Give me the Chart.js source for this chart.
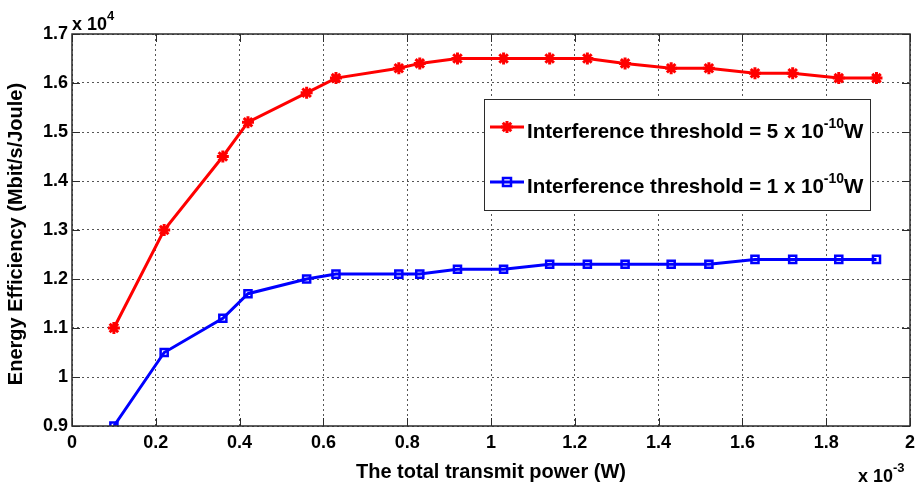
<!DOCTYPE html>
<html>
<head>
<meta charset="utf-8">
<script src="https://cdn.jsdelivr.net/npm/chart.js@4.4.0/dist/chart.umd.min.js"></script>
<style>
  body { margin: 0; background: #fff; }
  #grafico { display: block; }
</style>
</head>
<body>
<canvas id="grafico" width="923" height="485"></canvas>
<script>
// Dados (x em 10^-3 W, y em 10^4 Mbit/s/Joule)
const potencia = [0.1, 0.22, 0.36, 0.42, 0.56, 0.63, 0.78, 0.83, 0.92, 1.03, 1.14, 1.23, 1.32, 1.43, 1.52, 1.63, 1.72, 1.83, 1.92];
const eficienciaLimiar5 = [1.1, 1.3, 1.45, 1.52, 1.58, 1.61, 1.63, 1.64, 1.65, 1.65, 1.65, 1.65, 1.64, 1.63, 1.63, 1.62, 1.62, 1.61, 1.61];
const eficienciaLimiar1 = [0.9, 1.05, 1.12, 1.17, 1.2, 1.21, 1.21, 1.21, 1.22, 1.22, 1.23, 1.23, 1.23, 1.23, 1.23, 1.24, 1.24, 1.24, 1.24];
const nomesSeries = ['Interference threshold = 5 x 10', 'Interference threshold = 1 x 10'];
const ticksX = [0, 0.2, 0.4, 0.6, 0.8, 1, 1.2, 1.4, 1.6, 1.8, 2];
const ticksY = [0.9, 1, 1.1, 1.2, 1.3, 1.4, 1.5, 1.6, 1.7];

const FONTE = '"Liberation Sans", Arial, Helvetica, sans-serif';

function pontos(ys) {
  return potencia.map((x, i) => ({ x: x, y: ys[i] }));
}

function fmt(v) {
  return String(+v.toFixed(1));
}

// texto com expoente (ex.: x 10^4)
function textoExpoente(ctx, x, y, partes) {
  ctx.textAlign = 'left';
  ctx.textBaseline = 'alphabetic';
  partes.forEach(p => {
    ctx.font = 'bold ' + p.size + 'px ' + FONTE;
    ctx.fillText(p.t, x, y + (p.dy || 0));
    x += ctx.measureText(p.t).width;
  });
}

function marcadorEstrela(ctx, x, y, cor) {
  ctx.save();
  ctx.strokeStyle = cor;
  ctx.lineWidth = 3;
  const r = 6;
  ctx.beginPath();
  for (let k = 0; k < 4; k++) {
    const a = k * Math.PI / 4;
    ctx.moveTo(x - r * Math.cos(a), y - r * Math.sin(a));
    ctx.lineTo(x + r * Math.cos(a), y + r * Math.sin(a));
  }
  ctx.stroke();
  ctx.restore();
}

function marcadorQuadrado(ctx, x, y, cor) {
  ctx.save();
  ctx.strokeStyle = cor;
  ctx.lineWidth = 2.5;
  ctx.strokeRect(x - 4, y - 4, 8, 8);
  ctx.restore();
}

// Plugin: caixa, marcas de escala, títulos e legenda no estilo MATLAB
const estiloMatlab = {
  id: 'estiloMatlab',
  afterDraw(chart) {
    const ctx = chart.ctx;
    const a = chart.chartArea;
    const sx = chart.scales.x, sy = chart.scales.y;
    ctx.save();

    // caixa do eixo
    ctx.strokeStyle = '#2b2b2b';
    ctx.lineWidth = 1.5;
    ctx.strokeRect(a.left, a.top, a.right - a.left, a.bottom - a.top);

    // marcas para dentro
    ctx.lineWidth = 1;
    ctx.beginPath();
    ticksX.forEach(v => {
      const px = Math.round(sx.getPixelForValue(v)) + 0.5;
      ctx.moveTo(px, a.bottom); ctx.lineTo(px, a.bottom - 8);
      ctx.moveTo(px, a.top); ctx.lineTo(px, a.top + 8);
    });
    ticksY.forEach(v => {
      const py = Math.round(sy.getPixelForValue(v)) + 0.5;
      ctx.moveTo(a.left, py); ctx.lineTo(a.left + 8, py);
      ctx.moveTo(a.right, py); ctx.lineTo(a.right - 8, py);
    });
    ctx.stroke();

    ctx.fillStyle = '#000';
    // título do eixo x
    ctx.font = 'bold 20px ' + FONTE;
    ctx.textAlign = 'center';
    ctx.textBaseline = 'alphabetic';
    ctx.fillText('The total transmit power (W)', (a.left + a.right) / 2, 478);

    // título do eixo y
    ctx.save();
    ctx.font = 'bold 20px ' + FONTE;
    ctx.translate(22, 234);
    ctx.rotate(-Math.PI / 2);
    ctx.fillText('Energy Efficiency (Mbit/s/Joule)', 0, 0);
    ctx.restore();

    // multiplicadores
    textoExpoente(ctx, a.left, a.top - 4, [{ t: 'x 10', size: 18 }, { t: '4', size: 13, dy: -10 }]);
    textoExpoente(ctx, a.right - 52, 482, [{ t: 'x 10', size: 18 }, { t: '-3', size: 13, dy: -10 }]);

    // legenda
    const lx = a.left + 412, ly = a.top + 65, lw = 386, lh = 111;
    ctx.fillStyle = '#fff';
    ctx.fillRect(lx, ly, lw, lh);
    ctx.strokeStyle = '#2b2b2b';
    ctx.lineWidth = 1;
    ctx.strokeRect(lx + 0.5, ly + 0.5, lw, lh);
    const cores = ['#ff0000', '#0000ff'];
    const linhasY = [ly + 28, ly + 83];
    for (let i = 0; i < 2; i++) {
      ctx.strokeStyle = cores[i];
      ctx.lineWidth = 3;
      ctx.beginPath();
      ctx.moveTo(lx + 6, linhasY[i]);
      ctx.lineTo(lx + 40, linhasY[i]);
      ctx.stroke();
      if (i === 0) marcadorEstrela(ctx, lx + 23, linhasY[i], cores[i]);
      else marcadorQuadrado(ctx, lx + 23, linhasY[i], cores[i]);
      ctx.fillStyle = '#000';
      textoExpoente(ctx, lx + 43, linhasY[i] + 11, [
        { t: nomesSeries[i], size: 20.5 },
        { t: '-10', size: 14, dy: -10 },
        { t: 'W', size: 20.5 }
      ]);
    }
    ctx.restore();
  }
};

document.addEventListener('DOMContentLoaded', function () {
  const ctx = document.getElementById('grafico').getContext('2d');
  new Chart(ctx, {
    type: 'line',
    data: {
      datasets: [{
        label: nomesSeries[0],
        data: pontos(eficienciaLimiar5),
        borderColor: '#ff0000',
        backgroundColor: '#ff0000',
        borderWidth: 3,
        pointStyle: 'star',
        pointRadius: 6,
        pointBorderWidth: 3,
        tension: 0
      }, {
        label: nomesSeries[1],
        data: pontos(eficienciaLimiar1),
        borderColor: '#0000ff',
        backgroundColor: 'rgba(0,0,0,0)',
        borderWidth: 3,
        pointStyle: 'rect',
        pointRadius: 5,
        pointBorderWidth: 2.5,
        tension: 0
      }]
    },
    options: {
      responsive: false,
      devicePixelRatio: 1,
      animation: false,
      layout: { padding: { left: 0, right: 13, top: 34, bottom: 0 } },
      plugins: { legend: { display: false }, tooltip: { enabled: false } },
      scales: {
        x: {
          type: 'linear',
          min: 0, max: 2,
          afterFit: s => { s.height = 59; },
          afterBuildTicks: s => { s.ticks = ticksX.map(v => ({ value: v })); },
          ticks: {
            autoSkip: false, maxRotation: 0, padding: 6,
            color: '#000', font: { family: FONTE, size: 18, weight: 'bold' },
            callback: v => fmt(v)
          },
          grid: { color: '#555', lineWidth: 1, drawTicks: false },
          border: { display: false, dash: [2, 3] }
        },
        y: {
          min: 0.9, max: 1.7,
          afterFit: s => { s.width = 72; },
          afterBuildTicks: s => { s.ticks = ticksY.map(v => ({ value: v })); },
          ticks: {
            autoSkip: false, padding: 4,
            color: '#000', font: { family: FONTE, size: 18, weight: 'bold' },
            callback: v => fmt(v)
          },
          grid: { color: '#555', lineWidth: 1, drawTicks: false },
          border: { display: false, dash: [2, 3] }
        }
      }
    },
    plugins: [estiloMatlab]
  });
});
</script>
</body>
</html>
